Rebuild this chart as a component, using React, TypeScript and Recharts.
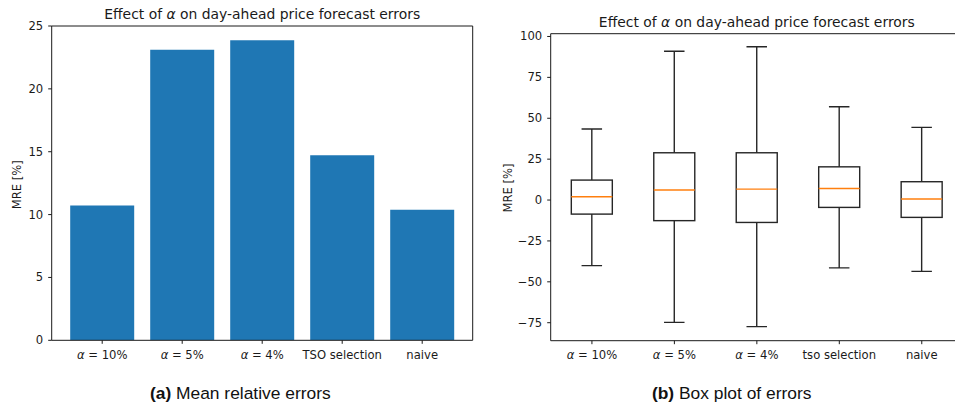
import React from 'react';
import { BarChart, Bar, XAxis, YAxis } from 'recharts';

// Mean relative error per forecasting setup
const methodsMean = ['α = 10%', 'α = 5%', 'α = 4%', 'TSO selection', 'naive'];
const mreMean = [10.72, 23.12, 23.87, 14.72, 10.39];
const meanTicks = [0, 5, 10, 15, 20, 25];

// Box-plot statistics of the relative errors
const methodsBox = ['α = 10%', 'α = 5%', 'α = 4%', 'tso selection', 'naive'];
const whiskerLow = [-40.1, -74.8, -77.4, -41.5, -43.6];
const quartile1 = [-8.6, -12.6, -13.7, -4.5, -10.6];
const medians = [2.0, 6.1, 6.7, 7.1, 0.6];
const quartile3 = [12.2, 28.9, 28.9, 20.3, 11.2];
const whiskerHigh = [43.4, 91.0, 93.7, 57.0, 44.4];
const boxTicks = [-75, -50, -25, 0, 25, 50, 75, 100];

const titleText = 'Effect of α on day-ahead price forecast errors';
const yLabel = 'MRE [%]';

const meanRows = methodsMean.map((name, i) => ({ name, mre: mreMean[i] }));
const boxRows = methodsBox.map((name, i) => ({
  name,
  range: [whiskerLow[i], whiskerHigh[i]],
  low: whiskerLow[i],
  q1: quartile1[i],
  med: medians[i],
  q3: quartile3[i],
  high: whiskerHigh[i],
}));

const FONT = '"DejaVu Sans", sans-serif';
const INK = '#1a1a1a';
const TICK_SIZE = 11.6;

// Renders "α" in italic, as in math text
function withAlpha(label: string) {
  const parts = label.split('α');
  const out: React.ReactNode[] = [];
  parts.forEach((p, i) => {
    if (i > 0) out.push(<tspan key={'a' + i} fontStyle="italic">α</tspan>);
    if (p) out.push(<tspan key={'t' + i}>{p}</tspan>);
  });
  return out;
}

function CategoryTick(props: any) {
  const { x, y, payload } = props;
  return (
    <text x={x} y={y} dy={15} textAnchor="middle" fontFamily={FONT} fontSize={TICK_SIZE} fill={INK}>
      {withAlpha(String(payload.value))}
    </text>
  );
}

function ValueTick(props: any) {
  const { x, y, payload } = props;
  const v = Number(payload.value);
  const s = v < 0 ? '\u2212' + Math.abs(v) : String(v);
  return (
    <text x={x} y={y} dy={4} textAnchor="end" fontFamily={FONT} fontSize={TICK_SIZE} fill={INK}>
      {s}
    </text>
  );
}

// Whisker-to-whisker range bar, drawn as a box with median and caps
function BoxShape(props: any) {
  const { x, y, width, height, payload } = props;
  const top = Math.min(y, y + height);
  const h = Math.abs(height);
  const { low, q1, med, q3, high } = payload;
  const k = h / (high - low);
  const py = (v: number) => top + (high - v) * k;
  const cx = x + width / 2;
  const cap = width / 4;
  const stroke = '#262626';
  const sw = 1.4;
  return (
    <g>
      <line x1={cx} x2={cx} y1={py(high)} y2={py(q3)} stroke={stroke} strokeWidth={sw} />
      <line x1={cx} x2={cx} y1={py(q1)} y2={py(low)} stroke={stroke} strokeWidth={sw} />
      <line x1={cx - cap} x2={cx + cap} y1={py(high)} y2={py(high)} stroke={stroke} strokeWidth={sw} />
      <line x1={cx - cap} x2={cx + cap} y1={py(low)} y2={py(low)} stroke={stroke} strokeWidth={sw} />
      <rect x={x} y={py(q3)} width={width} height={py(q1) - py(q3)} fill="none" stroke={stroke} strokeWidth={sw} />
      <line x1={x} x2={x + width} y1={py(med)} y2={py(med)} stroke="#ff7f0e" strokeWidth={1.4} />
    </g>
  );
}

const axisLine = { stroke: INK, strokeWidth: 1 };
const tickLine = { stroke: INK, strokeWidth: 1 };

export default function App() {
  return (
    <div
      style={{
        position: 'absolute',
        left: 0,
        top: 0,
        width: 955,
        height: 409,
        overflow: 'hidden',
        background: '#fff',
      }}
    >
      <div style={{ position: 'absolute', left: 0, top: 0 }}>
        <BarChart
          width={480}
          height={409}
          data={meanRows}
          margin={{ top: 25, right: 6.3, bottom: 38.7, left: 6.7 }}
          barCategoryGap="10%"
        >
          <XAxis
            dataKey="name"
            height={30}
            padding={{ left: 10.5, right: 10.5 }}
            tick={<CategoryTick />}
            tickSize={3.5}
            tickMargin={0}
            axisLine={axisLine}
            tickLine={tickLine}
            interval={0}
          />
          <XAxis xAxisId="top" orientation="top" dataKey="name" height={1} tick={false} tickLine={false} axisLine={axisLine} />
          <YAxis
            width={45}
            domain={[0, 25]}
            ticks={meanTicks}
            tick={<ValueTick />}
            tickSize={3.5}
            tickMargin={5}
            axisLine={axisLine}
            tickLine={tickLine}
            allowDataOverflow
          />
          <YAxis yAxisId="right" orientation="right" width={1} domain={[0, 25]} tick={false} tickLine={false} axisLine={axisLine} />
          <Bar dataKey="mre" fill="#1f77b4" isAnimationActive={false} />
        </BarChart>
      </div>

      <div style={{ position: 'absolute', left: 480, top: 0 }}>
        <BarChart
          width={490}
          height={409}
          data={boxRows}
          margin={{ top: 32.7, right: 6, bottom: 38.3, left: 25.7 }}
          barCategoryGap="25%"
        >
          <XAxis
            dataKey="name"
            height={30}
            tick={<CategoryTick />}
            tickSize={3.5}
            tickMargin={0}
            axisLine={axisLine}
            tickLine={tickLine}
            interval={0}
          />
          <XAxis xAxisId="top" orientation="top" dataKey="name" height={1} tick={false} tickLine={false} axisLine={axisLine} />
          <YAxis
            width={45}
            domain={[-86, 101.7]}
            ticks={boxTicks}
            tick={<ValueTick />}
            tickSize={3.5}
            tickMargin={5}
            axisLine={axisLine}
            tickLine={tickLine}
            allowDataOverflow
          />
          <YAxis yAxisId="right" orientation="right" width={1} domain={[-86, 101.7]} tick={false} tickLine={false} axisLine={axisLine} />
          <Bar dataKey="range" shape={<BoxShape />} isAnimationActive={false} />
        </BarChart>
      </div>

      <svg
        width={955}
        height={409}
        style={{ position: 'absolute', left: 0, top: 0, pointerEvents: 'none' }}
      >
        <text x={262.2} y={18.5} textAnchor="middle" fontFamily={FONT} fontSize={13.9} fill={INK}>
          {withAlpha(titleText)}
        </text>
        <text x={756.8} y={26.5} textAnchor="middle" fontFamily={FONT} fontSize={13.9} fill={INK}>
          {withAlpha(titleText)}
        </text>
        <text
          x={21}
          y={184.7}
          transform="rotate(-90 21 184.7)"
          textAnchor="middle"
          fontFamily={FONT}
          fontSize={TICK_SIZE}
          fill={INK}
        >
          {yLabel}
        </text>
        <text
          x={512.3}
          y={188}
          transform="rotate(-90 512.3 188)"
          textAnchor="middle"
          fontFamily={FONT}
          fontSize={TICK_SIZE}
          fill={INK}
        >
          {yLabel}
        </text>
        <text x={240.3} y={399} textAnchor="middle" fontFamily='"Liberation Sans", Arial, sans-serif' fontSize={17.4} fill="#111">
          <tspan fontWeight="bold">(a)</tspan> Mean relative errors
        </text>
        <text x={731.7} y={399} textAnchor="middle" fontFamily='"Liberation Sans", Arial, sans-serif' fontSize={17.4} fill="#111">
          <tspan fontWeight="bold">(b)</tspan> Box plot of errors
        </text>
      </svg>
    </div>
  );
}
